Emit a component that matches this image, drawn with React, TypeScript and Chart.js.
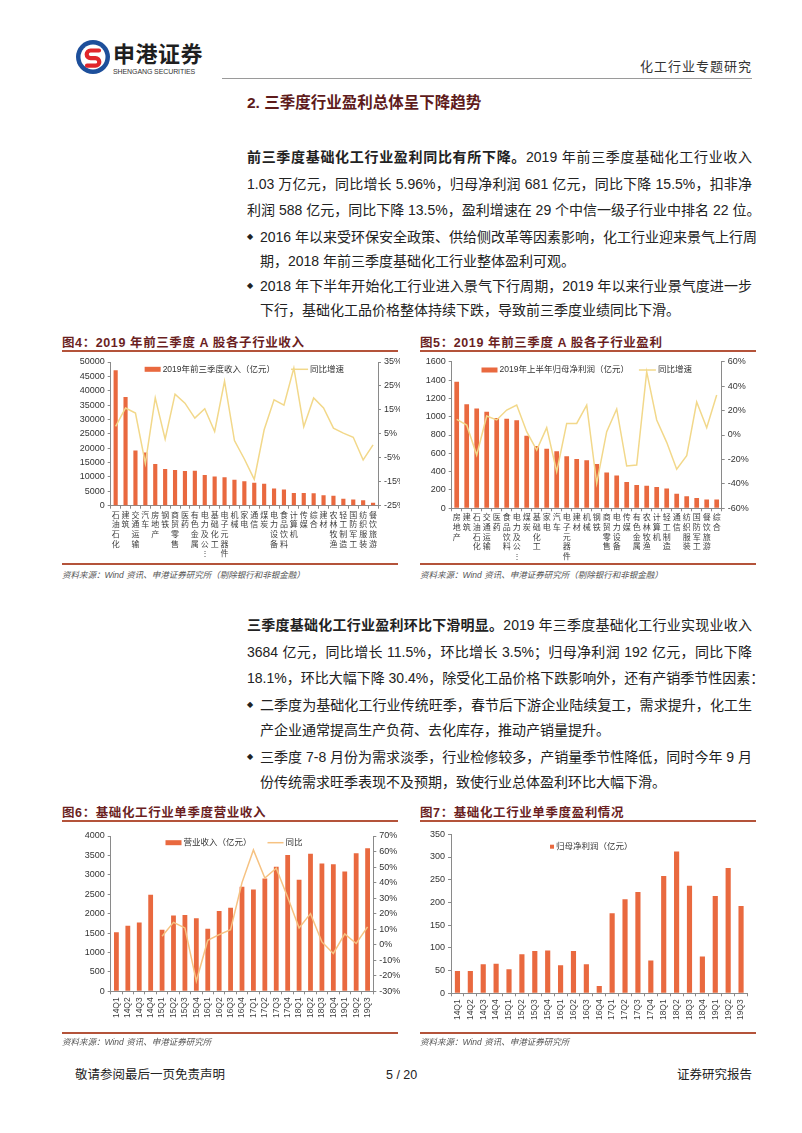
import React, { useEffect, useRef } from 'react';
import { Chart, registerables } from 'chart.js';
Chart.register(...registerables);

const FONT = "'Liberation Sans', 'Noto Sans CJK SC', sans-serif";
const BAR = '#E9693F';
const LINE_Y = '#F2D88A';
const LINE_O = '#F6C282';
const AXIS = '#8a8a8a';
const TICK = '#333333';

// ---------- Figure 4 data ----------
const fig4Categories = ['石油石化', '建筑', '交通运输', '汽车', '房地产', '钢铁', '商贸零售', '医药', '有色金属', '电力及公⋮', '基础化工', '电子元器件', '机械', '家电', '通信', '煤炭', '电力设备', '食品饮料', '计算机', '传媒', '综合', '建材', '农林牧渔', '轻工制造', '国防军工', '纺织服装', '餐饮旅游'];
const fig4Revenue = [47100, 37800, 19200, 18500, 14500, 12800, 12400, 12100, 12200, 10700, 10200, 9900, 9000, 8500, 8000, 7600, 6000, 5600, 4400, 4400, 4300, 3600, 3500, 2400, 2200, 1900, 1000];
const fig4Growth = [8.1, 15.8, 13.7, -7.3, 20, 2.8, 21.6, 17.8, 11.6, 15.5, 6, 27, 2.2, -5.5, -14, 6.7, 19.2, 17, 32.5, 8, 20, 15.8, 7.4, 5.3, 3.6, -5.9, 0.4];

// ---------- Figure 5 data ----------
const fig5Categories = ['房地产', '建筑', '石油石化', '交通运输', '医药', '食品饮料', '电力及公⋮', '煤炭', '基础化工', '家电', '汽车', '电子元器件', '建材', '机械', '钢铁', '商贸零售', '电力设备', '传媒', '有色金属', '农林牧渔', '计算机', '轻工制造', '通信', '纺织服装', '国防军工', '餐饮旅游', '综合'];
const fig5Profit = [1380, 1136, 1088, 1055, 986, 978, 960, 792, 681, 651, 622, 567, 538, 524, 484, 390, 357, 288, 255, 245, 233, 215, 160, 131, 113, 95, 95];
const fig5Growth = [12.8, 8.2, -16.4, 15.5, 12.3, 20.4, 24.5, 2.7, -12.3, 6, -30, 9.5, 9.5, 24.5, -39.6, 2.7, 21.3, -25.4, -24.6, 51.8, 12.3, -6, -28, -17, 27, 6, 32.7];

// ---------- Figure 6 / 7 data ----------
const quarters = ['14Q1', '14Q2', '14Q3', '14Q4', '15Q1', '15Q2', '15Q3', '15Q4', '16Q1', '16Q2', '16Q3', '16Q4', '17Q1', '17Q2', '17Q3', '17Q4', '18Q1', '18Q2', '18Q3', '18Q4', '19Q1', '19Q2', '19Q3'];
const fig6Revenue = [1520, 1690, 1775, 2490, 1585, 1950, 1965, 1880, 1610, 2070, 2150, 2690, 2620, 2905, 3205, 3510, 2875, 3545, 3290, 3270, 3085, 3555, 3684];
const fig6Yoy = [null, null, null, null, 5.5, 14.4, 10.8, -23.4, 2.9, 6.5, 9.7, 40, 61, 42.9, 49.3, 30.5, 10.8, 20, 1.8, -5.6, 7, 0.8, 11.5];
const fig7Profit = [49, 49, 64, 65, 53, 86, 93, 94, 62, 93, 64, 16, 176, 207, 223, 72, 258, 312, 237, 81, 214, 276, 192];

const fig4Ticks = { min: 0, max: 50000, step: 5000 };
const fig4RightTicks = { min: -25, max: 35, step: 10 };
const fig5Ticks = { min: 0, max: 1600, step: 200 };
const fig5RightTicks = { min: -60, max: 60, step: 20 };
const fig6Ticks = { min: 0, max: 4000, step: 500 };
const fig6RightTicks = { min: -30, max: 70, step: 10 };
const fig7Ticks = { min: 0, max: 350, step: 50 };

const legendPlugin = {
  id: 'insideLegend',
  afterDraw(chart: any, _args: any, opts: any) {
    if (!opts || !opts.show) return;
    const { ctx, chartArea } = chart;
    ctx.save();
    ctx.font = `${opts.size}px ${FONT}`;
    ctx.textBaseline = 'middle';
    const items = chart.data.datasets.map((ds: any) => {
      const isLine = ds.type === 'line';
      return { text: ds.label, color: isLine ? ds.borderColor : ds.backgroundColor, isLine, w: ctx.measureText(ds.label).width };
    });
    const total = items.reduce((s: number, it: any) => s + (it.isLine ? opts.lineW : opts.markerW) + opts.textGap + it.w, 0) + opts.gap * (items.length - 1);
    let x = (chartArea.left + chartArea.right) / 2 - total / 2 + (opts.dx || 0);
    const y = chartArea.top + opts.dy;
    items.forEach((it: any) => {
      if (it.isLine) {
        ctx.strokeStyle = it.color;
        ctx.lineWidth = 1.5;
        ctx.beginPath();
        ctx.moveTo(x, y);
        ctx.lineTo(x + opts.lineW, y);
        ctx.stroke();
        x += opts.lineW;
      } else {
        ctx.fillStyle = it.color;
        ctx.fillRect(x, y - opts.markerH / 2, opts.markerW, opts.markerH);
        x += opts.markerW;
      }
      x += opts.textGap;
      ctx.fillStyle = TICK;
      ctx.fillText(it.text, x, y);
      x += it.w + opts.gap;
    });
    ctx.restore();
  },
};

function yAxis(pos: string, t: any, fmt: (v: any) => string, width: number, show = true) {
  return {
    display: show,
    position: pos,
    min: t.min,
    max: t.max,
    ticks: { stepSize: t.step, color: TICK, font: { size: 9, family: FONT }, padding: 3, callback: fmt },
    grid: { drawOnChartArea: false, drawTicks: true, tickLength: 3, color: AXIS },
    border: { display: true, color: AXIS },
    afterFit: (s: any) => { s.width = width; },
  };
}

function xAxis(height: number, rotate: boolean) {
  return {
    offset: true,
    ticks: {
      autoSkip: false,
      maxRotation: rotate ? 90 : 0,
      minRotation: rotate ? 90 : 0,
      color: '#404040',
      font: rotate ? { size: 8.5, family: FONT } : { size: 8, family: FONT, lineHeight: 1.2 },
      padding: rotate ? 3 : 2,
    },
    grid: { offset: true, drawOnChartArea: false, drawTicks: true, tickLength: 3, color: AXIS },
    border: { display: true, color: AXIS },
    afterFit: (s: any) => { s.height = height; },
  };
}

const pct = (v: any) => `${v}%`;
const num = (v: any) => `${v}`;

function makeFig4() {
  return {
    type: 'bar',
    data: {
      labels: fig4Categories.map((s) => Array.from(s)),
      datasets: [
        { type: 'bar', label: '2019年前三季度收入（亿元）', data: fig4Revenue, backgroundColor: BAR, yAxisID: 'y', order: 2, barPercentage: 0.42, categoryPercentage: 1 },
        { type: 'line', label: '同比增速', data: fig4Growth, borderColor: LINE_Y, borderWidth: 1.5, pointRadius: 0, tension: 0, yAxisID: 'y1', order: 1 },
      ],
    },
    options: {
      responsive: false, animation: false,
      layout: { padding: { top: 10, left: 0, right: 0, bottom: 0 } },
      plugins: { legend: { display: false }, tooltip: { enabled: false },
        insideLegend: { show: true, size: 8.5, markerW: 16, markerH: 5, lineW: 17, textGap: 2, gap: 16, dy: 7.3 } },
      scales: {
        x: xAxis(56.3, false),
        y: yAxis('left', fig4Ticks, num, 48.7),
        y1: yAxis('right', fig4RightTicks, pct, 22),
      },
    },
    plugins: [legendPlugin],
  };
}

function makeFig5() {
  return {
    type: 'bar',
    data: {
      labels: fig5Categories.map((s) => Array.from(s)),
      datasets: [
        { type: 'bar', label: '2019年上半年归母净利润（亿元）', data: fig5Profit, backgroundColor: BAR, yAxisID: 'y', order: 2, barPercentage: 0.47, categoryPercentage: 1 },
        { type: 'line', label: '同比增速', data: fig5Growth, borderColor: LINE_Y, borderWidth: 1.5, pointRadius: 0, tension: 0, yAxisID: 'y1', order: 1 },
      ],
    },
    options: {
      responsive: false, animation: false,
      layout: { padding: { top: 9.7, left: 0, right: 0, bottom: 0 } },
      plugins: { legend: { display: false }, tooltip: { enabled: false },
        insideLegend: { show: true, size: 8.5, markerW: 16, markerH: 5, lineW: 17, textGap: 2, gap: 10, dy: 8.3 } },
      scales: {
        x: xAxis(53.7, false),
        y: yAxis('left', fig5Ticks, num, 31.7),
        y1: yAxis('right', fig5RightTicks, pct, 36.3),
      },
    },
    plugins: [legendPlugin],
  };
}

function makeFig6() {
  return {
    type: 'bar',
    data: {
      labels: quarters,
      datasets: [
        { type: 'bar', label: '营业收入（亿元）', data: fig6Revenue, backgroundColor: BAR, yAxisID: 'y', order: 2, barPercentage: 0.42, categoryPercentage: 1 },
        { type: 'line', label: '同比', data: fig6Yoy, borderColor: LINE_O, borderWidth: 1.5, pointRadius: 0, tension: 0, yAxisID: 'y1', order: 1 },
      ],
    },
    options: {
      responsive: false, animation: false,
      layout: { padding: { top: 14, left: 0, right: 0, bottom: 0 } },
      plugins: { legend: { display: false }, tooltip: { enabled: false },
        insideLegend: { show: true, size: 8.5, markerW: 16, markerH: 5, lineW: 16, textGap: 2, gap: 16, dy: 6.7, dx: -8 } },
      scales: {
        x: xAxis(42.7, true),
        y: yAxis('left', fig6Ticks, num, 48.7),
        y1: yAxis('right', fig6RightTicks, pct, 26.7),
      },
    },
    plugins: [legendPlugin],
  };
}

function makeFig7() {
  return {
    type: 'bar',
    data: {
      labels: quarters,
      datasets: [
        { type: 'bar', label: '归母净利润（亿元）', data: fig7Profit, backgroundColor: BAR, yAxisID: 'y', barPercentage: 0.4, categoryPercentage: 1 },
      ],
    },
    options: {
      responsive: false, animation: false,
      layout: { padding: { top: 12.3, left: 0, right: 10.5, bottom: 0 } },
      plugins: { legend: { display: false }, tooltip: { enabled: false },
        insideLegend: { show: true, size: 8.5, markerW: 4, markerH: 4, lineW: 16, textGap: 2, gap: 16, dy: 12.4, dx: -8 } },
      scales: {
        x: xAxis(40.7, true),
        y: yAxis('left', fig7Ticks, num, 31),
      },
    },
    plugins: [legendPlugin],
  };
}

function ChartBox({ make, left, top, width, height }: any) {
  const ref = useRef<HTMLCanvasElement>(null);
  useEffect(() => {
    const chart = new Chart(ref.current as HTMLCanvasElement, make() as any);
    return () => chart.destroy();
  }, []);
  return (
    <div style={{ position: 'absolute', left, top, width, height, overflow: 'hidden' }}>
      <canvas ref={ref} width={width} height={height} style={{ width, height, display: 'block' }} />
    </div>
  );
}

const TEXT = '#222';
const BODY = 14;

function Line({ top, left = 247, width = 505, justify = true, children, size = BODY, style = {} }: any) {
  const lh = 20;
  return (
    <div style={{ position: 'absolute', left, top: top - lh / 2, width, height: lh, lineHeight: lh + 'px', fontSize: size, fontFamily: FONT, color: TEXT, whiteSpace: 'nowrap', textAlign: justify ? 'justify' : 'left', textAlignLast: justify ? 'justify' : 'left', ...style } as any}>
      {children}
    </div>
  );
}

function Bullet({ top }: any) {
  return <div style={{ position: 'absolute', left: 247, top: top - 6, fontSize: 8, lineHeight: '12px', color: TEXT, fontFamily: "'DejaVu Sans', sans-serif" }}>◆</div>;
}

function FigTitle({ left, text }: any) {
  return (
    <div style={{ position: 'absolute', left, top: 0, fontSize: 12.5, fontWeight: 700, color: '#6b1f1f', fontFamily: FONT, whiteSpace: 'nowrap', letterSpacing: 0.6 }}>{text}</div>
  );
}

function Rule({ left, top, width, color = '#b4533a', h = 1.5 }: any) {
  return <div style={{ position: 'absolute', left, top, width, height: h, background: color }} />;
}

function Source({ left, top, text }: any) {
  return <div style={{ position: 'absolute', left, top: top - 6, fontSize: 8.5, lineHeight: '12px', fontStyle: 'italic', color: '#555', fontFamily: FONT, whiteSpace: 'nowrap' }}>{text}</div>;
}

export default function App() {
  return (
    <div style={{ position: 'absolute', left: 0, top: 0, width: 802, height: 1133, background: '#fff', overflow: 'hidden', fontFamily: FONT }}>
      {/* Header */}
      <svg width="36" height="36" viewBox="0 0 36 36" style={{ position: 'absolute', left: 75, top: 39 }}>
        <circle cx="18" cy="18" r="17" fill="#1d4f9b" />
        <circle cx="18" cy="18" r="12.5" fill="#fff" />
        <path d="M24 11.5 H15.5 a3.8 3.8 0 0 0 0 7.6 h5 a3.8 3.8 0 0 1 0 7.6 H12" stroke="#e0262b" strokeWidth="4.2" fill="none" strokeLinecap="round" />
      </svg>
      <div style={{ position: 'absolute', left: 113, top: 42, fontSize: 22, lineHeight: '26px', fontWeight: 700, color: '#1f1f1f', fontFamily: FONT, letterSpacing: 0.5 }}>申港证券</div>
      <div style={{ position: 'absolute', left: 113, top: 67, fontSize: 7, lineHeight: '9px', color: '#333', fontFamily: FONT, letterSpacing: -0.1 }}>SHENGANG SECURITIES</div>
      <div style={{ position: 'absolute', right: 50, top: 59, fontSize: 13, lineHeight: '16px', color: '#333', fontFamily: FONT, letterSpacing: 1 }}>化工行业专题研究</div>
      <Rule left={222} top={77.5} width={530} color="#9a9a9a" h={1} />

      {/* Section title */}
      <div style={{ position: 'absolute', left: 247, top: 93, fontSize: 15.5, lineHeight: '20px', fontWeight: 700, color: '#5e1b1b', fontFamily: FONT }}>2. 三季度行业盈利总体呈下降趋势</div>

      {/* Paragraph 1 */}
      <Line top={157}><b>前三季度基础化工行业盈利同比有所下降。</b>2019 年前三季度基础化工行业收入</Line>
      <Line top={184}>1.03 万亿元，同比增长 5.96%，归母净利润 681 亿元，同比下降 15.5%，扣非净</Line>
      <Line top={210}>利润 588 亿元，同比下降 13.5%，盈利增速在 29 个中信一级子行业中排名 22 位。</Line>

      <Bullet top={237} />
      <Line top={237} left={260} width={492}>2016 年以来受环保安全政策、供给侧改革等因素影响，化工行业迎来景气上行周</Line>
      <Line top={261} left={260} width={492} justify={false}>期，2018 年前三季度基础化工行业整体盈利可观。</Line>
      <Bullet top={286} />
      <Line top={286} left={260} width={492}>2018 年下半年开始化工行业进入景气下行周期，2019 年以来行业景气度进一步</Line>
      <Line top={310} left={260} width={492} justify={false}>下行，基础化工品价格整体持续下跌，导致前三季度业绩同比下滑。</Line>

      {/* Figure 4 / 5 */}
      <div style={{ position: 'absolute', left: 62, top: 332 }}><FigTitle left={0} text="图4：2019 年前三季度 A 股各子行业收入" /></div>
      <div style={{ position: 'absolute', left: 420, top: 332 }}><FigTitle left={0} text="图5：2019 年前三季度 A 股各子行业盈利" /></div>
      <Rule left={62} top={350} width={336} />
      <Rule left={420} top={350} width={336} />
      <ChartBox make={makeFig4} left={62} top={352} width={338} height={210} />
      <ChartBox make={makeFig5} left={420} top={352} width={338} height={210} />
      <Rule left={62} top={563} width={336} />
      <Rule left={420} top={563} width={336} />
      <Source left={62} top={575} text="资料来源：Wind 资讯、申港证券研究所（剔除银行和非银金融）" />
      <Source left={420} top={575} text="资料来源：Wind 资讯、申港证券研究所（剔除银行和非银金融）" />

      {/* Paragraph 2 */}
      <Line top={625}><b>三季度基础化工行业盈利环比下滑明显。</b>2019 年三季度基础化工行业实现业收入</Line>
      <Line top={652}>3684 亿元，同比增长 11.5%，环比增长 3.5%；归母净利润 192 亿元，同比下降</Line>
      <Line top={678}>18.1%，环比大幅下降 30.4%，除受化工品价格下跌影响外，还有产销季节性因素：</Line>

      <Bullet top={705} />
      <Line top={705} left={260} width={492}>二季度为基础化工行业传统旺季，春节后下游企业陆续复工，需求提升，化工生</Line>
      <Line top={730} left={260} width={492} justify={false}>产企业通常提高生产负荷、去化库存，推动产销量提升。</Line>
      <Bullet top={757} />
      <Line top={757} left={260} width={492}>三季度 7-8 月份为需求淡季，行业检修较多，产销量季节性降低，同时今年 9 月</Line>
      <Line top={782} left={260} width={492} justify={false}>份传统需求旺季表现不及预期，致使行业总体盈利环比大幅下滑。</Line>

      {/* Figure 6 / 7 */}
      <div style={{ position: 'absolute', left: 62, top: 802 }}><FigTitle left={0} text="图6：基础化工行业单季度营业收入" /></div>
      <div style={{ position: 'absolute', left: 420, top: 802 }}><FigTitle left={0} text="图7：基础化工行业单季度盈利情况" /></div>
      <Rule left={62} top={820} width={336} />
      <Rule left={420} top={820} width={336} />
      <ChartBox make={makeFig6} left={62} top={822} width={338} height={212} />
      <ChartBox make={makeFig7} left={420} top={822} width={338} height={212} />
      <Rule left={62} top={1032} width={336} />
      <Rule left={420} top={1032} width={336} />
      <Source left={62} top={1042} text="资料来源：Wind 资讯、申港证券研究所" />
      <Source left={420} top={1042} text="资料来源：Wind 资讯、申港证券研究所" />

      {/* Footer */}
      <div style={{ position: 'absolute', left: 75, top: 1067, fontSize: 12.5, lineHeight: '16px', color: '#222', fontFamily: FONT }}>敬请参阅最后一页免责声明</div>
      <div style={{ position: 'absolute', left: 386, top: 1067, fontSize: 12.5, lineHeight: '16px', color: '#222', fontFamily: FONT }}>5 / 20</div>
      <div style={{ position: 'absolute', right: 50, top: 1067, fontSize: 12.5, lineHeight: '16px', color: '#222', fontFamily: FONT }}>证券研究报告</div>
    </div>
  );
}
